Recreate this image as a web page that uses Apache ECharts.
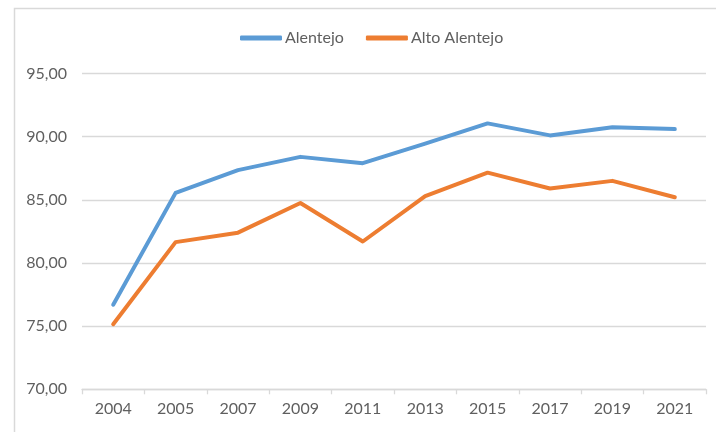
<!DOCTYPE html>
<html>
<head>
<meta charset="utf-8">
<script src="https://cdn.jsdelivr.net/npm/echarts@6/dist/echarts.min.js"></script>
<style>
html,body{margin:0;padding:0;background:#fff;}
#main{width:716px;height:432px;}
</style>
</head>
<body>
<div id="main"></div>
<script>
const categories = ['2004','2005','2007','2009','2011','2013','2015','2017','2019','2021'];
const alentejo = [76.7, 85.55, 87.35, 88.4, 87.9, 89.45, 91.05, 90.1, 90.75, 90.6];
const altoAlentejo = [75.15, 81.65, 82.4, 84.75, 81.7, 85.3, 87.15, 85.9, 86.5, 85.2];
const seriesNames = ['Alentejo', 'Alto Alentejo'];
const yMin = 70, yMax = 95, yStep = 5;

const FONT = 'Lato';
const TXT = '#5f5f5f';
const chart = echarts.init(document.getElementById('main'), null, {renderer: 'canvas'});
chart.setOption({
  animation: false,
  backgroundColor: '#fff',
  graphic: [{
    type: 'rect', left: 12, top: 6,
    shape: {width: 740, height: 460},
    style: {fill: 'none', stroke: '#d9d9d9', lineWidth: 1.5},
    silent: true
  }],
  legend: {
    top: 25, left: 235,
    itemWidth: 42, itemHeight: 5, itemGap: 22,
    icon: 'roundRect',
    textStyle: {fontFamily: FONT, fontSize: 16, color: TXT, padding: [0,0,0,-2]},
    data: seriesNames
  },
  grid: {left: 82, right: 10, top: 73.5, bottom: 42.7, containLabel: false},
  xAxis: {
    type: 'category', data: categories, boundaryGap: true,
    axisLine: {lineStyle: {color: '#d9d9d9', width: 1.3}},
    axisTick: {show: true, length: 5, lineStyle: {color: '#d9d9d9', width: 1.3}},
    axisLabel: {fontFamily: FONT, fontSize: 16, color: TXT, margin: 12},
    splitLine: {show: false}
  },
  yAxis: {
    type: 'value', min: yMin, max: yMax, interval: yStep,
    axisLine: {show: false}, axisTick: {show: false},
    axisLabel: {fontFamily: FONT, fontSize: 16, color: TXT, margin: 15,
      formatter: v => v.toFixed(2).replace('.', ',')},
    splitLine: {lineStyle: {color: '#d9d9d9', width: 1.3}}
  },
  series: [
    {name: seriesNames[0], type: 'line', data: alentejo, symbol: 'none',
     lineStyle: {color: '#5B9BD5', width: 4, cap: 'round', join: 'round'}, itemStyle: {color: '#5B9BD5'}},
    {name: seriesNames[1], type: 'line', data: altoAlentejo, symbol: 'none',
     lineStyle: {color: '#ED7D31', width: 4, cap: 'round', join: 'round'}, itemStyle: {color: '#ED7D31'}}
  ]
});
</script>
</body>
</html>
